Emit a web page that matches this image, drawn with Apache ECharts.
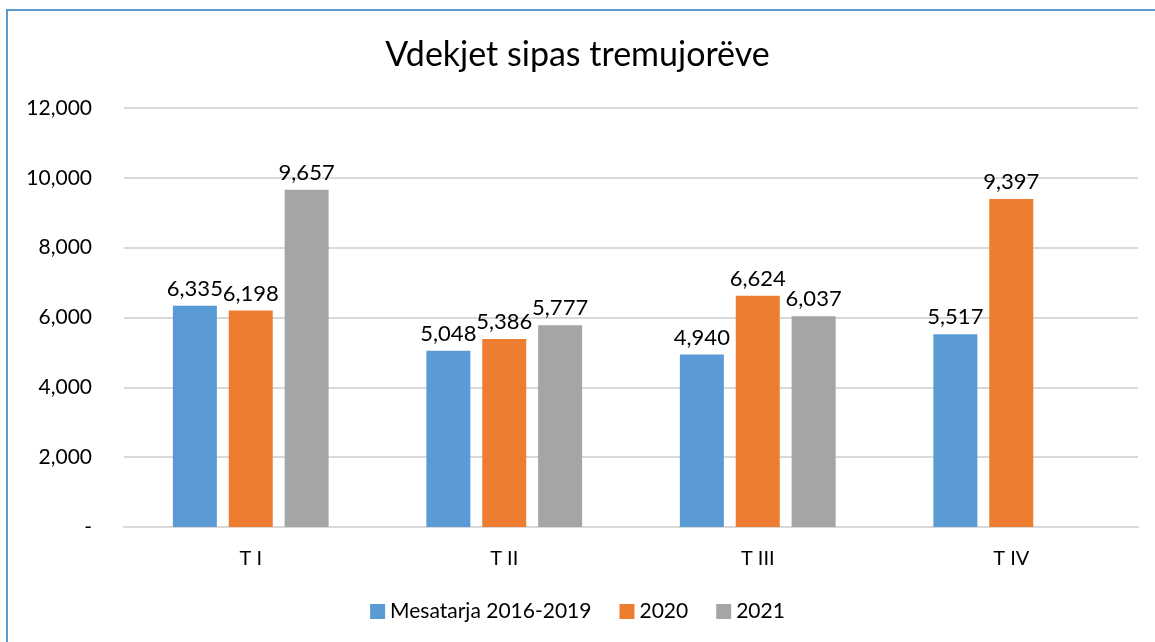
<!DOCTYPE html>
<html>
<head>
<meta charset="utf-8">
<script src="https://cdn.jsdelivr.net/npm/echarts@6/dist/echarts.min.js"></script>
<style>
  html, body { margin: 0; padding: 0; background: #fff; }
  #frame {
    position: absolute; left: 6px; top: 9px; width: 1160px; height: 650px;
    border-left: 2px solid #5b9bd5; border-top: 2px solid #5b9bd5;
  }
  #chart { position: absolute; left: 0; top: 0; width: 1155px; height: 642px; }
</style>
</head>
<body>
<div id="frame"></div>
<div id="chart"></div>
<script>
const categories = ['T I', 'T II', 'T III', 'T IV'];
const seriesNames = ['Mesatarja 2016-2019', '2020', '2021'];
const avg2016_2019 = [6335, 5048, 4940, 5517];
const y2020 = [6198, 5386, 6624, 9397];
const y2021 = [9657, 5777, 6037, null];
const colors = ['#5b9bd5', '#ed7d31', '#a5a5a5'];

const font = 'Lato, "Open Sans", sans-serif';
const fmt = v => v.toLocaleString('en-US');

const myChart = echarts.init(document.getElementById('chart'));

const makeSeries = (name, data, color) => ({
  type: 'bar',
  name: name,
  data: data,
  barWidth: 44,
  barGap: '27%',
  itemStyle: { color: color },
  label: {
    show: true,
    position: 'top',
    distance: 6,
    color: '#000',
    fontFamily: font,
    fontSize: 22,
    formatter: p => fmt(p.value)
  }
});

const option = {
  animation: false,
  title: {
    text: 'Vdekjet sipas tremujorëve',
    left: 'center',
    top: 33,
    textStyle: { fontFamily: font, fontSize: 34, fontWeight: 'normal', color: '#000' }
  },
  legend: {
    data: seriesNames,
    bottom: 15,
    left: 'center',
    icon: 'rect',
    itemWidth: 15,
    itemHeight: 15,
    itemGap: 28,
    textStyle: { fontFamily: font, fontSize: 21, color: '#000' }
  },
  grid: { left: 124, right: 17, top: 108, bottom: 115 },
  xAxis: {
    type: 'category',
    data: categories,
    axisLine: { lineStyle: { color: '#d9d9d9', width: 2 } },
    axisTick: { show: false },
    axisLabel: { margin: 22, fontFamily: font, fontSize: 20, color: '#000' }
  },
  yAxis: {
    type: 'value',
    min: 0,
    max: 12000,
    interval: 2000,
    axisLine: { show: false },
    axisTick: { show: false },
    splitLine: { lineStyle: { color: '#d9d9d9', width: 2 } },
    axisLabel: {
      margin: 32,
      fontFamily: font,
      fontSize: 21,
      color: '#000',
      formatter: v => (v === 0 ? '-' : fmt(v))
    }
  },
  series: [
    makeSeries(seriesNames[0], avg2016_2019, colors[0]),
    makeSeries(seriesNames[1], y2020, colors[1]),
    makeSeries(seriesNames[2], y2021, colors[2])
  ]
};

myChart.setOption(option);
</script>
</body>
</html>
